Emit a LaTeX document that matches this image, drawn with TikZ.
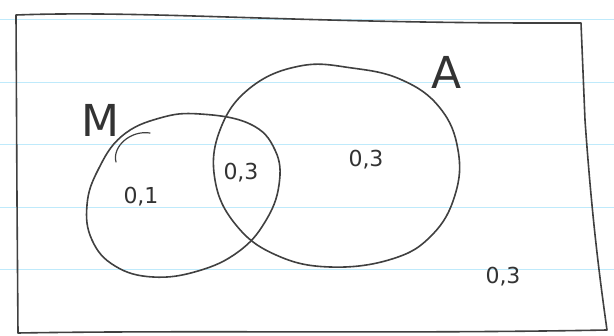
\documentclass[tikz,border=0pt]{standalone}
\usepackage{fontspec}
\setmainfont{DejaVu Sans}
\begin{document}
\begin{tikzpicture}[x=1pt,y=-1pt,
  ink/.style={draw=black!75,line width=1.6pt,line cap=round,line join=round},
  rule/.style={draw=cyan!25!white,line width=1pt},
  val/.style={font=\fontsize{22}{22}\selectfont,text=black!80,inner sep=0pt},
  setlabel/.style={font=\fontsize{44}{44}\selectfont,text=black!80,inner sep=0pt}]
\useasboundingbox (0,0) rectangle (614,336);
\fill[white] (0,0) rectangle (614,336);
% lined paper
\foreach \yy in {20,83,145,208,270} {\draw[rule] (0,\yy) -- (614,\yy);}
% frame
\draw[ink] (16,15) .. controls (150,10) and (300,24) .. (581,23)
  -- (585,120) .. controls (592,220) and (600,280) .. (607,330)
  .. controls (400,334) and (200,330) .. (18,333)
  -- (17,200) -- (16,15);
% set M
\draw[ink] plot[smooth cycle,tension=0.7] coordinates {(200,114) (250,124) (275,150) (279,185) (265,222) (238,252) (198,271) (153,277) (115,266) (92,240) (87,205) (98,170) (122,136) (160,118)};
% set A
\draw[ink] plot[smooth cycle,tension=0.7] coordinates {(300,66) (352,68) (402,80) (440,108) (458,150) (455,195) (432,235) (392,259) (330,267) (276,255) (236,225) (215,180) (220,130) (250,88)};
% tick of M
\draw[ink,line width=1.2pt] (116,162) .. controls (112,147) and (130,130) .. (150,133);
% labels
\node[setlabel] (labM) at (100,120) {M};
\node[setlabel] (labA) at (447,72) {A};
\node[val] (vM) at (141,197) {0,1};
\node[val] (vMA) at (241,173) {0,3};
\node[val] (vA) at (366,160) {0,3};
\node[val] (vU) at (503,277) {0,3};
\end{tikzpicture}
\end{document}
